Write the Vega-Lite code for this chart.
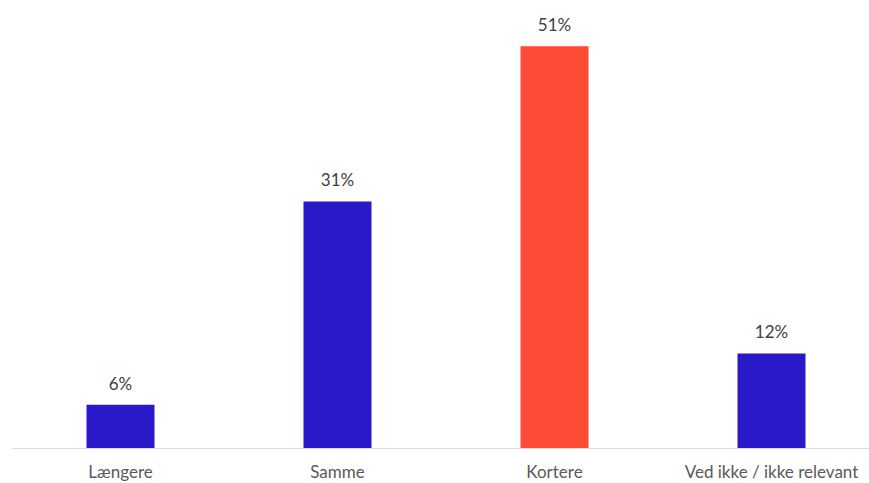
{
  "$schema": "https://vega.github.io/schema/vega-lite/v6.json",
  "autosize": "none",
  "padding": {"left": 12, "top": 8, "right": 0, "bottom": 35},
  "width": 868,
  "height": 440,
  "background": "white",
  "config": {"view": {"stroke": null}, "font": "Lato"},
  "data": {"values": [
    {"cat": "Længere", "value": 0.055, "label": "6%", "hl": "no"},
    {"cat": "Samme", "value": 0.313, "label": "31%", "hl": "no"},
    {"cat": "Kortere", "value": 0.51, "label": "51%", "hl": "yes"},
    {"cat": "Ved ikke / ikke relevant", "value": 0.12, "label": "12%", "hl": "no"}
  ]},
  "encoding": {
    "x": {"field": "cat", "type": "nominal", "sort": null,
      "scale": {"paddingInner": 0.6866, "paddingOuter": 0.3433},
      "axis": {"title": null, "labelAngle": 0, "domainColor": "#d9d9d9", "domainWidth": 1, "ticks": false,
        "labelFontSize": 17, "labelColor": "#595959", "labelPadding": 16, "labelFont": "Lato"}},
    "y": {"field": "value", "type": "quantitative", "scale": {"domain": [0, 0.5587], "nice": false}, "axis": null}
  },
  "layer": [
    {"mark": {"type": "bar"},
     "encoding": {"color": {"field": "hl", "type": "nominal", "scale": {"domain": ["no", "yes"], "range": ["#2A19C8", "#FF4A36"]}, "legend": null}}},
    {"mark": {"type": "text", "baseline": "alphabetic", "dy": -15, "fontSize": 17, "color": "#404040", "font": "Lato"},
     "encoding": {"text": {"field": "label"}}}
  ]
}
